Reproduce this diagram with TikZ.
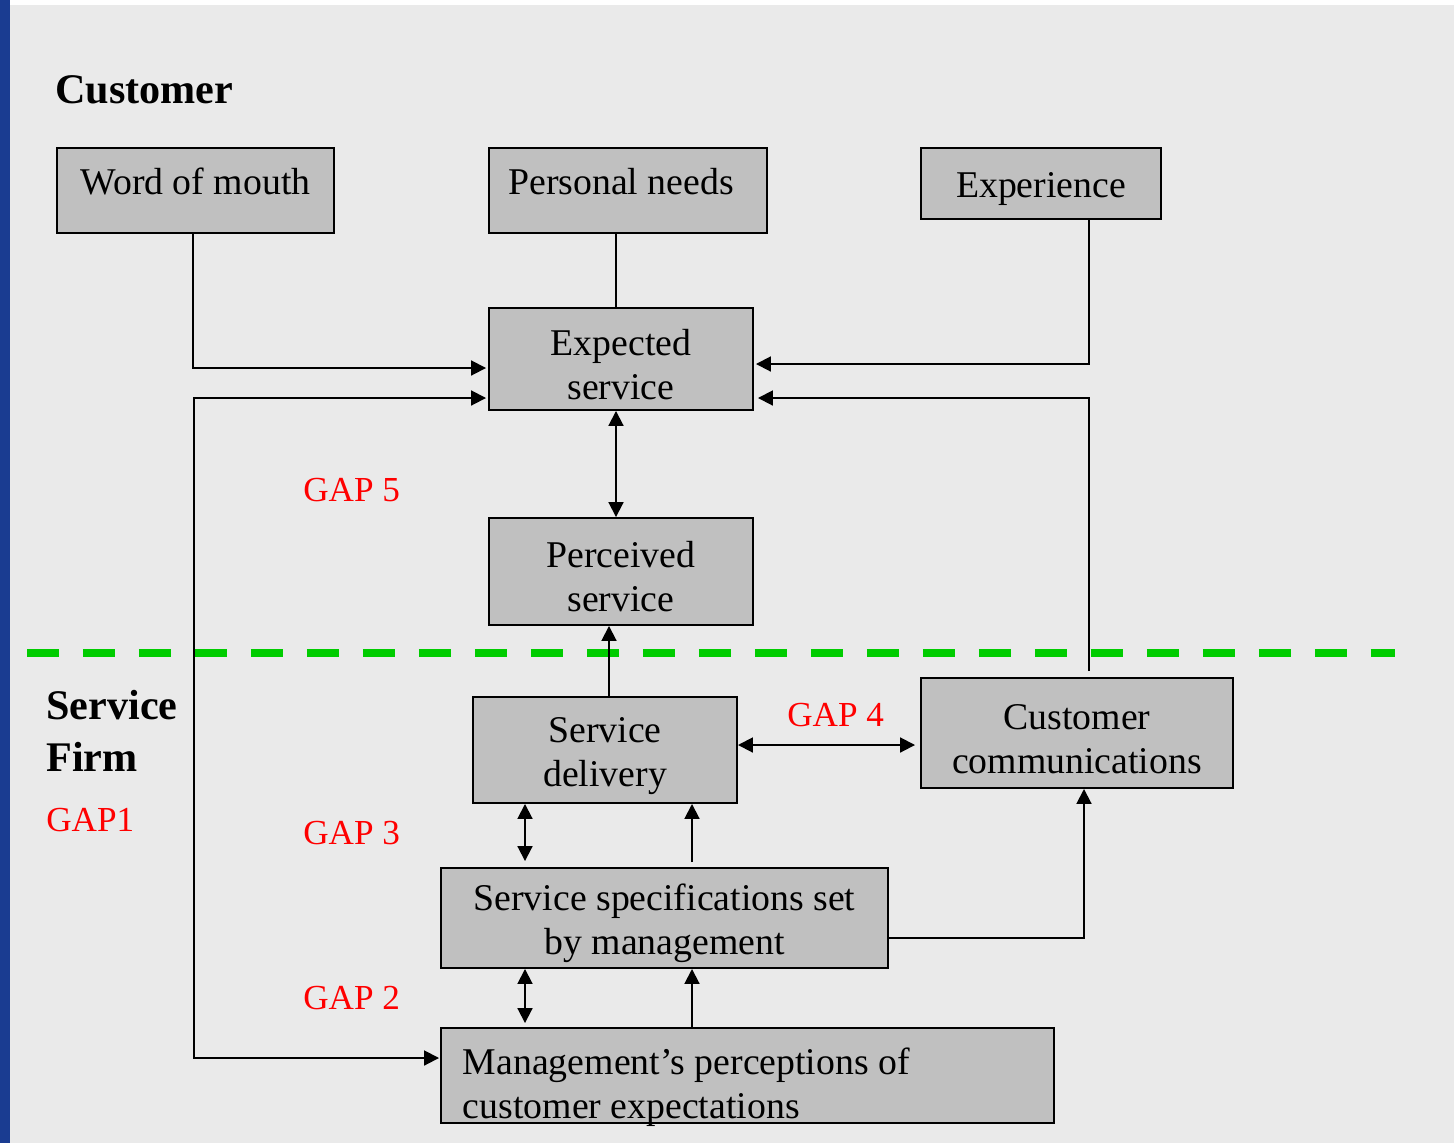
\documentclass[tikz,border=0pt]{standalone}
\usepackage{fontspec}
\setmainfont{Liberation Serif}
\usetikzlibrary{arrows.meta,calc}
\definecolor{bg}{RGB}{234,234,234}
\definecolor{boxgray}{RGB}{192,192,192}
\definecolor{strip}{RGB}{26,60,145}
\definecolor{gapred}{RGB}{255,0,0}
\definecolor{divider}{RGB}{0,204,0}
\newcommand{\gaplabel}[3]{\node[gap] (#1) at (#2) {#3};}
\newcommand{\boxstrut}{\rule{0pt}{21pt}}
\tikzset{
  box/.style={draw, fill=boxgray, line width=1.1pt, inner sep=0pt, align=center,
    font=\fontsize{21.5}{25}\selectfont},
  link/.style={line width=1.1pt},
  gap/.style={anchor=west, inner sep=0pt, text=gapred, font=\fontsize{20}{24}\selectfont},
  side/.style={anchor=west, inner sep=0pt, align=left, font=\fontsize{24}{29.5}\selectfont\bfseries}
}
\begin{document}
\begin{tikzpicture}[x=0.02cm, y=-0.02cm, >={Triangle[length=8.5pt,width=8.5pt]}]
\useasboundingbox (0,0) rectangle (1454,1143);
\fill[white] (0,0) rectangle (1454,1143);
\fill[bg] (10,5) rectangle (1454,1143);
\fill[strip] (0,0) rectangle (10,1143);
\draw[divider, line width=0.16cm, dash pattern=on 0.64cm off 0.48cm] (27,653) -- (1395,653);

\node[side] (cust) at (55,90) {Customer};
\node[side] (firm) at (46,731) {Service\\Firm};
\gaplabel{gap1}{46,820}{GAP1}
\gaplabel{gap5}{303,490}{GAP 5}
\gaplabel{gap4}{787,715}{GAP 4}
\gaplabel{gap3}{303,833}{GAP 3}
\gaplabel{gap2}{303,998}{GAP 2}

\node[box, minimum width=277*0.02cm, minimum height=85*0.02cm] (wom) at (195.5,190.5) {\boxstrut Word of mouth\\[-9pt]};
\node[box, minimum width=278*0.02cm, minimum height=85*0.02cm] (pn) at (628,190.5) {\boxstrut Personal needs\hspace*{0.28cm}\\[-9pt]};
\node[box, minimum width=240*0.02cm, minimum height=71*0.02cm] (expr) at (1041,183.5) {\boxstrut Experience};
\node[box, minimum width=264*0.02cm, minimum height=102*0.02cm] (exp) at (621,359) {\boxstrut Expected\\service};
\node[box, minimum width=264*0.02cm, minimum height=107*0.02cm] (perc) at (621,571.5) {\boxstrut Perceived\\service};
\node[box, minimum width=264*0.02cm, minimum height=106*0.02cm] (sd) at (605,750) {\boxstrut Service\\delivery};
\node[box, minimum width=312*0.02cm, minimum height=110*0.02cm] (cc) at (1077,733) {\boxstrut Customer\\communications};
\node[box, minimum width=447*0.02cm, minimum height=100*0.02cm] (spec) at (664.5,918) {\boxstrut Service specifications set\\by management};
\node[box, minimum width=613*0.02cm, minimum height=95*0.02cm] (mgmt) at (747.5,1075.5) {};
\node[box, draw=none, fill=none, anchor=west, align=left] (mgmttxt) at (462,1087) {Management’s perceptions of\\customer expectations};

\coordinate (colF) at (193,0);
\coordinate (colC) at (616,0);
\coordinate (colD) at (609,0);
\coordinate (colE) at (1089,0);
\coordinate (colG) at (1084,0);
\coordinate (colA) at (525,0);
\coordinate (colB) at (692,0);
\coordinate (g1) at (194,1058);
\coordinate (rowS) at (0,938);

\draw[link,->] (wom.south -| colF) |- ($(exp.west)+(-2,9)$);
\draw[link,<->] ($(exp.west)+(-2,39)$) -| (g1) -- ($(mgmt.west |- g1)+(-1,0)$);
\draw[link] (pn.south -| colC) -- (exp.north -| colC);
\draw[link,->] (expr.south -| colE) |- ($(exp.east)+(2,5)$);
\draw[link,->] ($(cc.north -| colE)+(0,-6)$) |- ($(exp.east)+(4,39)$);
\draw[link,<->] (exp.south -| colC) -- (perc.north -| colC);
\draw[link,->] (sd.north -| colD) -- (perc.south -| colD);
\draw[link,<->] ($(sd.east)+(0,-5)$) -- ($(cc.west)+(-5,12)$);
\draw[link,<->] (sd.south -| colA) -- ($(spec.north -| colA)+(0,-6)$);
\draw[link,->] ($(spec.north -| colB)+(0,-5)$) -- (sd.south -| colB);
\draw[link,->] (spec.east |- rowS) -| (cc.south -| colG);
\draw[link,<->] (spec.south -| colA) -- ($(mgmt.north -| colA)+(0,-4)$);
\draw[link,->] (mgmt.north -| colB) -- (spec.south -| colB);
\end{tikzpicture}
\end{document}
